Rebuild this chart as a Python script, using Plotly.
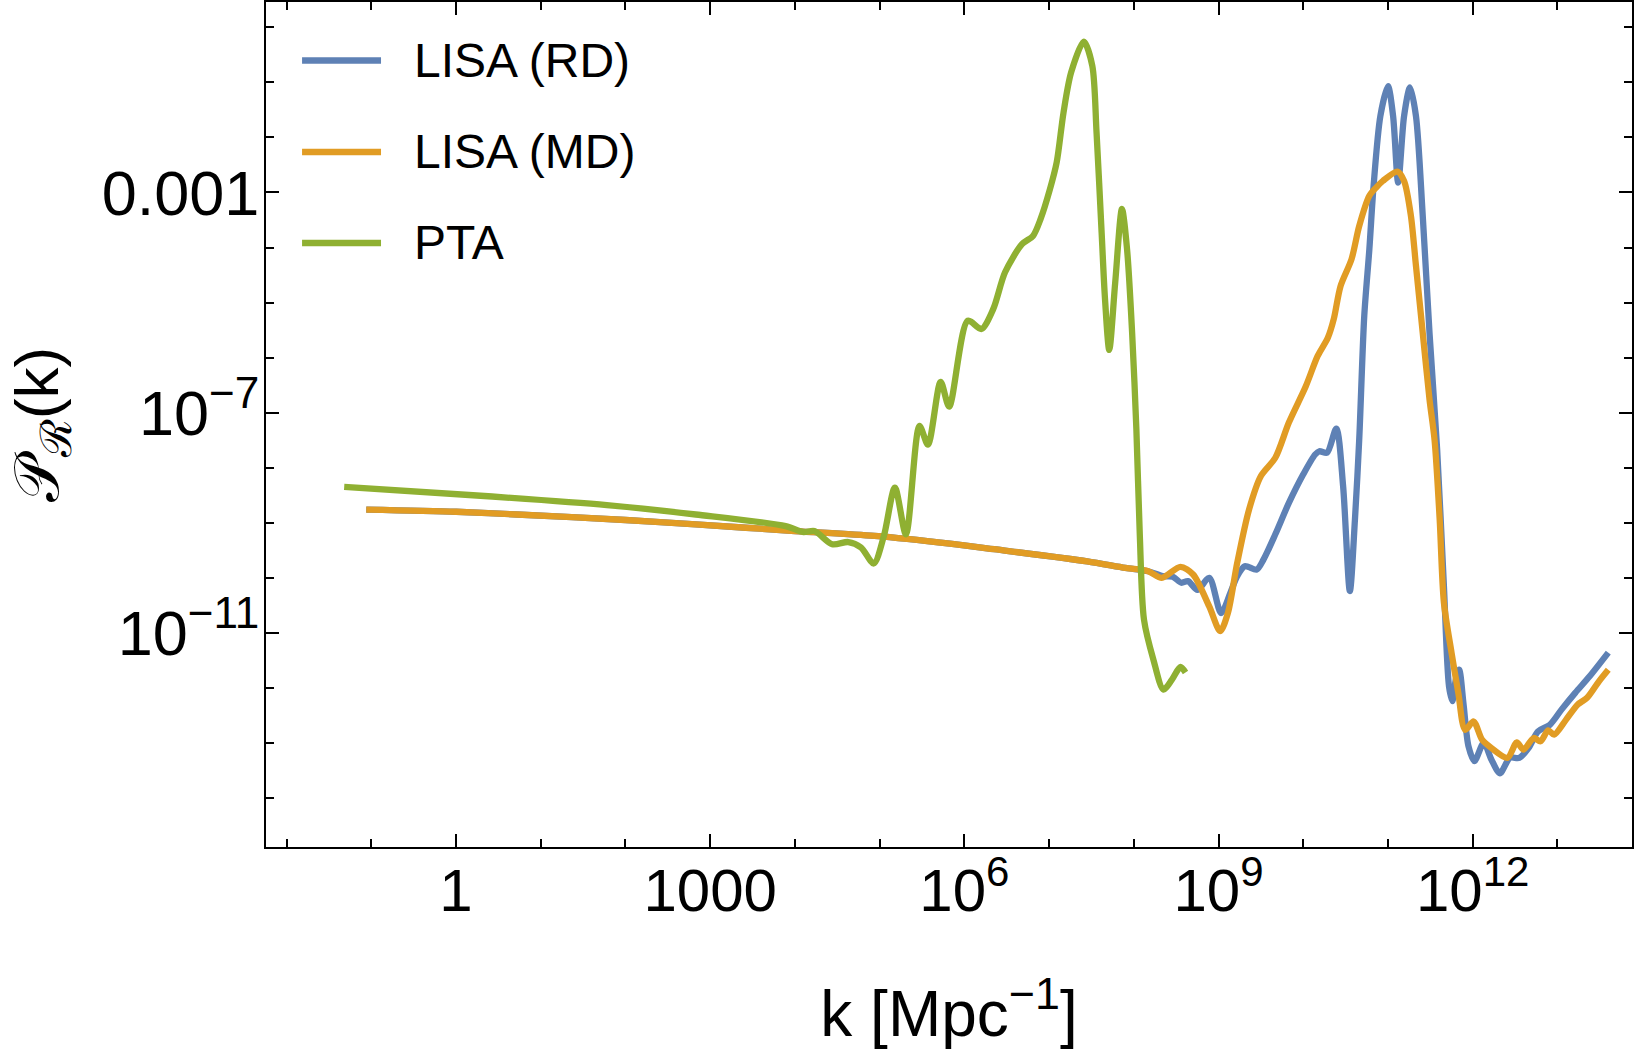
import plotly.graph_objects as go

series_names = ["LISA (RD)", "LISA (MD)", "PTA"]
series_colors = ["#5E81B5", "#E19C24", "#8FB032"]

# shared low-k part (log10 k, log10 P)
common_log10k = [-1.06, 0.0, 0.72, 2.0, 2.83, 4.0, 4.94, 5.83, 6.35, 7.45, 7.90, 8.17]
common_log10p = [-8.76, -8.80, -8.85, -8.95, -9.03, -9.15, -9.24, -9.38, -9.48, -9.70, -9.82, -9.88]

lisa_rd_log10k = common_log10k + [
    8.34, 8.46, 8.56, 8.64, 8.75, 8.89, 9.03, 9.14, 9.22, 9.31, 9.45, 9.53, 9.67, 9.83,
    10.00, 10.14, 10.19, 10.28, 10.39, 10.47, 10.55, 10.61, 10.66, 10.72, 10.78, 10.83,
    10.91, 11.00, 11.06, 11.12, 11.19, 11.26, 11.33, 11.41, 11.49, 11.58, 11.66, 11.72,
    11.76, 11.80, 11.84, 11.89, 11.95, 12.02, 12.13, 12.22, 12.32, 12.44, 12.55, 12.66,
    12.77, 12.91, 13.05, 13.21, 13.38, 13.60]
lisa_rd_log10p = common_log10p + [
    -9.97, -9.98, -10.09, -10.06, -10.22, -10.00, -10.64, -10.27, -9.97, -9.79, -9.85, -9.67, -9.21, -8.64,
    -8.12, -7.76, -7.70, -7.73, -7.29, -8.33, -10.24, -8.94, -7.50, -5.24, -4.03, -2.88,
    -1.61, -1.07, -1.61, -2.82, -1.61, -1.09, -1.61, -3.42, -5.55, -7.67, -10.15, -11.97,
    -12.24, -11.85, -11.67, -12.27, -13.06, -13.33, -13.00, -13.30, -13.55, -13.27, -13.27, -13.09,
    -12.79, -12.67, -12.39, -12.09, -11.79, -11.36]

lisa_md_log10k = common_log10k + [
    8.33, 8.55, 8.70, 8.89, 9.02, 9.11, 9.22, 9.36, 9.50, 9.67, 9.83, 10.03, 10.17, 10.29,
    10.36, 10.44, 10.57, 10.66, 10.78, 10.86, 10.94, 11.11, 11.19, 11.27, 11.33, 11.41,
    11.49, 11.55, 11.61, 11.66, 11.75, 11.83, 11.91, 12.01, 12.11, 12.22, 12.41, 12.52,
    12.60, 12.72, 12.80, 12.89, 12.96, 13.10, 13.24, 13.35, 13.49, 13.60]
lisa_md_log10p = common_log10p + [
    -10.00, -9.80, -9.94, -10.52, -10.97, -10.64, -9.73, -8.76, -8.15, -7.82, -7.18, -6.52, -5.97, -5.64,
    -5.30, -4.70, -4.21, -3.61, -3.06, -2.91, -2.79, -2.62, -2.79, -3.42, -4.33, -5.55,
    -6.76, -7.50, -8.94, -10.45, -11.36, -12.09, -12.76, -12.61, -12.94, -13.09, -13.27, -12.99,
    -13.12, -12.91, -12.97, -12.77, -12.85, -12.58, -12.30, -12.18, -11.88, -11.67]

pta_log10k = [
    -1.32, 0.20, 1.78, 2.83, 3.89, 4.10, 4.23, 4.44, 4.63, 4.78, 4.93, 5.05, 5.18, 5.31,
    5.47, 5.57, 5.72, 5.82, 6.04, 6.20, 6.34, 6.48, 6.68, 6.81, 6.90, 7.01, 7.09, 7.17,
    7.26, 7.41, 7.51, 7.56, 7.62, 7.66, 7.71, 7.78, 7.86, 7.92, 7.98, 8.03, 8.07, 8.12,
    8.23, 8.35, 8.45, 8.55, 8.61]
pta_log10p = [
    -8.35, -8.50, -8.68, -8.85, -9.06, -9.17, -9.15, -9.39, -9.35, -9.45, -9.74, -9.24, -8.36, -9.21,
    -7.24, -7.58, -6.44, -6.89, -5.33, -5.48, -5.12, -4.45, -3.94, -3.79, -3.48, -2.94, -2.45, -1.55,
    -0.82, -0.26, -0.70, -1.91, -3.73, -4.94, -5.86, -4.64, -3.30, -4.03, -5.55, -7.30, -9.20, -10.76,
    -11.48, -12.03, -11.85, -11.62, -11.72]

x_tick_vals = [1, 1e3, 1e6, 1e9, 1e12]
x_tick_text = ["1", "1000", "10<sup>6</sup>", "10<sup>9</sup>", "10<sup>12</sup>"]
x_minor_vals = [10.0 ** e for e in range(-2, 14)]
y_tick_vals = [1e-3, 1e-7, 1e-11]
y_tick_text = ["0.001", "10<sup>\u22127</sup>", "10<sup>\u221211</sup>"]
y_minor_vals = [10.0 ** e for e in range(-14, 1)]

x_title = "k [Mpc<sup>\u22121</sup>]"
y_title = "\U0001D4AB<sub>\u211B</sub>(k)"

x_range = [-2.243, 13.88]
y_range = [-14.89, 0.46]

FONT = "Liberation Sans, Arial, sans-serif"

fig = go.Figure()
all_series = [
    (lisa_rd_log10k, lisa_rd_log10p),
    (lisa_md_log10k, lisa_md_log10p),
    (pta_log10k, pta_log10p),
]
for (lk, lp), name, color in zip(all_series, series_names, series_colors):
    fig.add_trace(go.Scatter(
        x=[10.0 ** v for v in lk], y=[10.0 ** v for v in lp],
        mode="lines", name=name, showlegend=False,
        line=dict(color=color, width=6.3, shape="spline", smoothing=0.8),
    ))

# manual legend
legend_y = [0.9308, 0.8225, 0.7148]
for name, color, ly in zip(series_names, series_colors, legend_y):
    fig.add_shape(type="line", xref="x domain", yref="y domain",
                  x0=0.0264, x1=0.0842, y0=ly, y1=ly,
                  line=dict(color=color, width=6.5))
    fig.add_annotation(xref="x domain", yref="y domain", x=0.1069, y=ly,
                       xanchor="left", yanchor="middle", showarrow=False,
                       text=name, font=dict(family=FONT, size=48, color="black"))

# y-axis title placed as rotated annotation
fig.add_annotation(xref="paper", yref="paper", x=-0.1650, y=0.50,
                   xanchor="center", yanchor="middle", showarrow=False, textangle=-90,
                   text=y_title, font=dict(family=FONT, size=62, color="black"))

axis_common = dict(
    type="log", showline=True, linecolor="black", linewidth=2, mirror="ticks",
    ticks="inside", ticklen=13, tickwidth=2, tickcolor="black",
    showgrid=False, zeroline=False,
)
fig.update_xaxes(
    **axis_common, range=x_range, tickmode="array", tickvals=x_tick_vals, ticktext=x_tick_text,
    tickfont=dict(family=FONT, size=60, color="black"),
    minor=dict(tickmode="array", tickvals=x_minor_vals, ticks="inside", ticklen=8,
               tickwidth=2, tickcolor="black", showgrid=False),
    ticklabelstandoff=-10,
    title=dict(text=x_title, font=dict(family=FONT, size=64, color="black"), standoff=68),
)
fig.update_yaxes(
    **axis_common, range=y_range, tickmode="array", tickvals=y_tick_vals, ticktext=y_tick_text,
    tickfont=dict(family=FONT, size=63, color="black"),
    minor=dict(tickmode="array", tickvals=y_minor_vals, ticks="inside", ticklen=8,
               tickwidth=2, tickcolor="black", showgrid=False),
    ticklabelstandoff=-8,
)

fig.update_layout(
    width=1635, height=1051,
    margin=dict(l=266, r=3, t=2, b=204, autoexpand=False),
    plot_bgcolor="white", paper_bgcolor="white",
    showlegend=False,
)

fig.write_html("out.html")
